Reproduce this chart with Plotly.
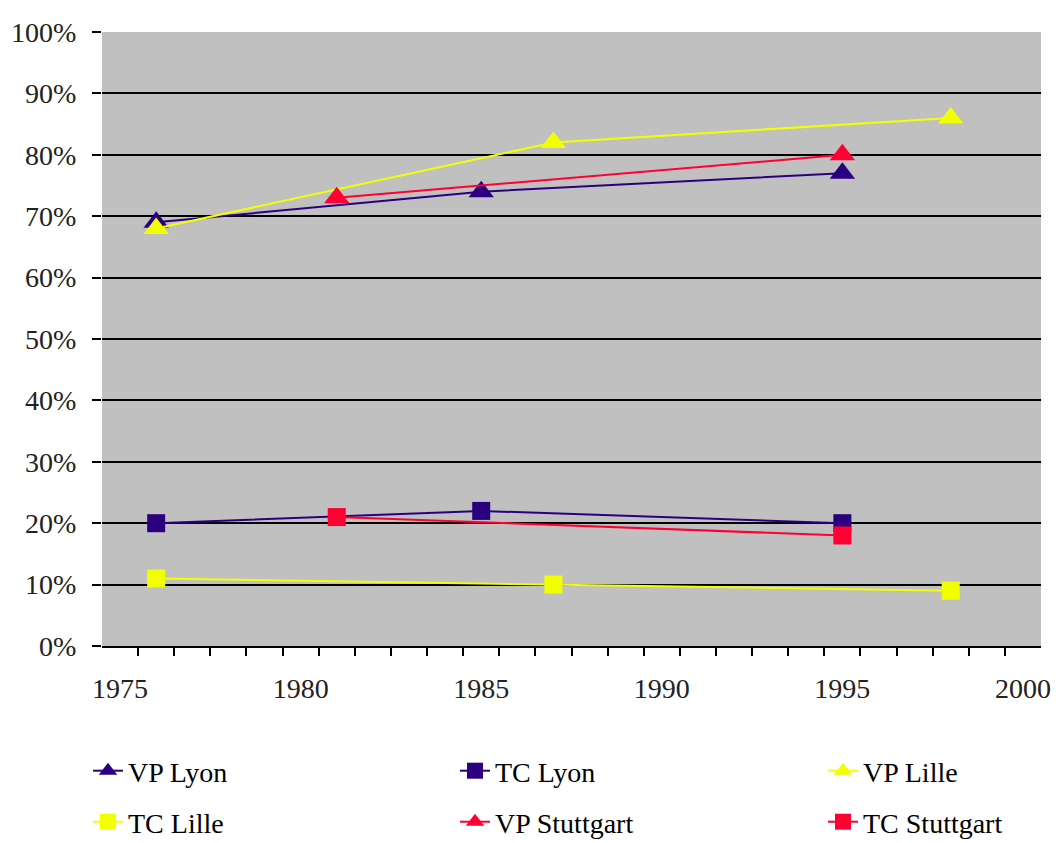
import plotly.graph_objects as go

# Modal share (VP = car, TC = public transport) for three cities
vp_lyon_years = [1976, 1985, 1995]
vp_lyon = [0.69, 0.74, 0.77]

tc_lyon_years = [1976, 1985, 1995]
tc_lyon = [0.20, 0.22, 0.20]

vp_lille_years = [1976, 1987, 1998]
vp_lille = [0.68, 0.82, 0.86]

tc_lille_years = [1976, 1987, 1998]
tc_lille = [0.11, 0.10, 0.09]

vp_stuttgart_years = [1981, 1995]
vp_stuttgart = [0.73, 0.80]

tc_stuttgart_years = [1981, 1995]
tc_stuttgart = [0.21, 0.18]

year_labels = [1975, 1980, 1985, 1990, 1995, 2000]
pct_ticks = [i / 10 for i in range(11)]

NAVY = "#2b0080"
YELLOW = "#f2ff00"
RED = "#ff0033"

SERIF = "Liberation Serif, Times New Roman, serif"

# name, years, values, colour, marker, legend id, legend position (px)
series = [
    ("VP Lyon", vp_lyon_years, vp_lyon, NAVY, "triangle-up", "legend2", (88, 771)),
    ("TC Lyon", tc_lyon_years, tc_lyon, NAVY, "square", "legend3", (455, 771)),
    ("VP Lille", vp_lille_years, vp_lille, YELLOW, "triangle-up", "legend4", (823, 771)),
    ("TC Lille", tc_lille_years, tc_lille, YELLOW, "square", "legend5", (88, 822)),
    ("VP Stuttgart", vp_stuttgart_years, vp_stuttgart, RED, "triangle-up", "legend6", (455, 822)),
    ("TC Stuttgart", tc_stuttgart_years, tc_stuttgart, RED, "square", "legend7", (823, 822)),
]

fig = go.Figure()
legends = {}
for name, xs, ys, color, symbol, leg, (lx, ly) in series:
    fig.add_trace(go.Scatter(
        x=xs, y=ys, name=name, mode="lines+markers",
        line=dict(color=color, width=2),
        marker=dict(symbol=symbol, size=18 if symbol == "square" else 22,
                    color=color, line=dict(width=0)),
        legend=leg, showlegend=True,
    ))
    legends[leg] = dict(
        orientation="h",
        xref="container", yref="container",
        x=lx / 1058, y=1 - ly / 843, xanchor="left", yanchor="middle",
        font=dict(family=SERIF, size=28, color="black"),
        bgcolor="rgba(0,0,0,0)",
    )

fig.update_layout(
    width=1058, height=843,
    margin=dict(l=102, r=17, t=32, b=197, autoexpand=False),
    paper_bgcolor="white",
    plot_bgcolor="#c0c0c0",
    font=dict(family=SERIF, size=28, color="#222"),
    **legends,
)

fig.update_xaxes(
    range=[1974.5, 2000.5],
    tickmode="array", tickvals=year_labels,
    ticks="", showgrid=False, zeroline=False,
    showline=True, linecolor="black", linewidth=2,
    ticklabelstandoff=16,
    tickfont=dict(family=SERIF, size=28, color="#222"),
    minor=dict(tickmode="array",
               tickvals=[y + 0.5 for y in range(1975, 2000)],
               ticks="outside", ticklen=8, tickwidth=2, tickcolor="black",
               showgrid=False),
)

fig.update_yaxes(
    range=[0, 1],
    tickmode="array", tickvals=pct_ticks, tickformat=".0%",
    showgrid=True, gridcolor="black", gridwidth=2,
    zeroline=False, showline=False,
    ticks="outside", ticklen=9, tickwidth=2, tickcolor="black",
    ticklabelstandoff=10,
    tickfont=dict(family=SERIF, size=28, color="#222"),
)

fig.write_html("out.html")
